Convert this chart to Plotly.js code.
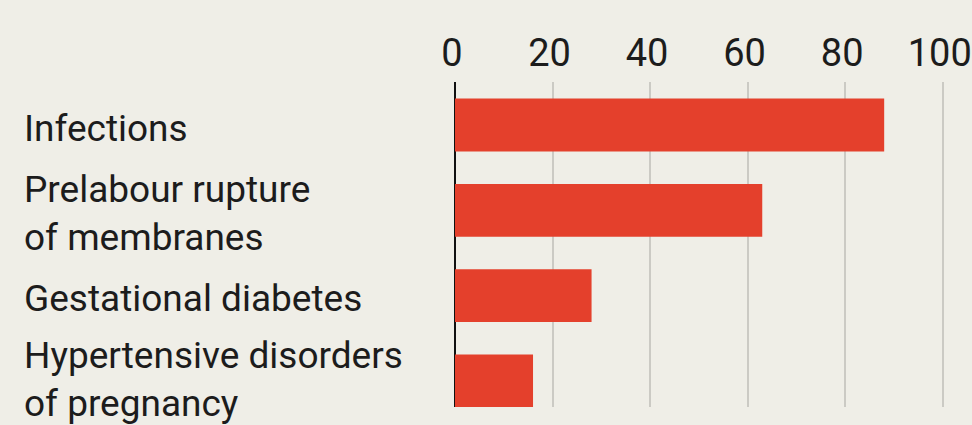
<!DOCTYPE html>
<html>
<head>
<meta charset="utf-8">
<script src="https://cdn.plot.ly/plotly-3.0.1.min.js"></script>
<style>
  html, body { margin: 0; padding: 0; background: #efeee7; }
  #chart { width: 972px; height: 425px; }
</style>
</head>
<body>
<div id="chart"></div>
<script>
const categories = [
  "Infections",
  "Prelabour rupture<br>of membranes",
  "Gestational diabetes",
  "Hypertensive disorders<br>of pregnancy"
];
const values = [88, 63, 28, 16];
const tickValues = [0, 20, 40, 60, 80, 100];
const tickLabels = ["0", "20", "40", "60", "80", "100"];

const BG = "#efeee7";
const BAR = "#e4402c";
const TEXT = "#1c1c1c";
const FONT = "Roboto, 'Liberation Sans', sans-serif";

const PLOT_LEFT = 455;
const PLOT_W = 972 - PLOT_LEFT;
const PX_PER_UNIT = 4.877;
const LABEL_X = 22;

const trace = {
  type: "bar",
  orientation: "h",
  x: values,
  y: categories,
  marker: { color: BAR, line: { width: 0 } },
  hoverinfo: "skip"
};

const annotations = categories.map((c, i) => ({
  xref: "paper",
  yref: "y",
  x: (LABEL_X - PLOT_LEFT) / PLOT_W,
  y: c,
  xanchor: "left",
  yanchor: "middle",
  yshift: i === categories.length - 1 ? 1 : -3,
  align: "left",
  showarrow: false,
  text: c,
  font: { family: FONT, size: 37, color: TEXT }
}));

const layout = {
  width: 972,
  height: 425,
  margin: { l: PLOT_LEFT, r: 0, t: 82, b: 18, pad: 0 },
  paper_bgcolor: BG,
  plot_bgcolor: BG,
  bargap: 0.38,
  showlegend: false,
  xaxis: {
    side: "top",
    range: [0, PLOT_W / PX_PER_UNIT],
    tickmode: "array",
    tickvals: tickValues,
    ticktext: tickLabels,
    ticks: "",
    ticklabelstandoff: 7,
    ticklabelshift: -3,
    ticklabeloverflow: "allow",
    showgrid: true,
    gridcolor: "#cbcac4",
    gridwidth: 2,
    zeroline: true,
    zerolinecolor: "#111111",
    zerolinewidth: 2.5,
    showline: false,
    tickfont: { family: FONT, size: 38, color: TEXT },
    fixedrange: true
  },
  yaxis: {
    type: "category",
    range: [3.305, -0.504],
    autorange: false,
    showticklabels: false,
    showgrid: false,
    zeroline: false,
    ticks: "",
    fixedrange: true
  },
  annotations: annotations
};

Plotly.newPlot("chart", [trace], layout, { staticPlot: true, displayModeBar: false });
</script>
</body>
</html>
